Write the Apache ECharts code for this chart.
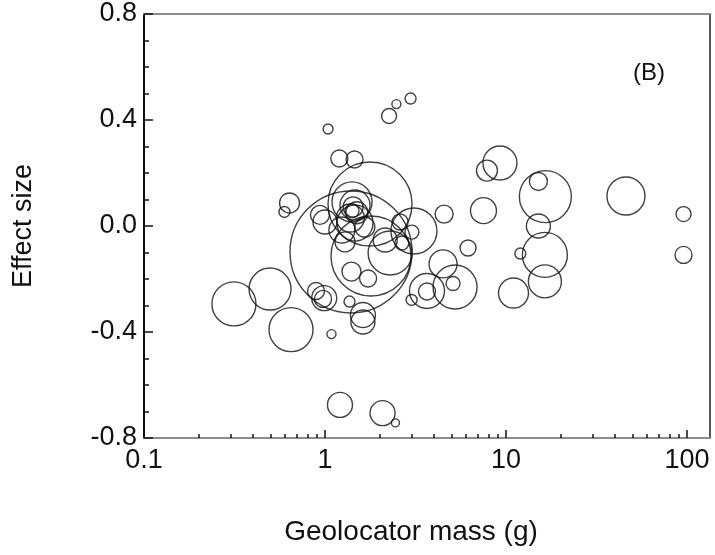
<!DOCTYPE html>
<html>
<head>
<meta charset="utf-8">
<title>Effect size vs geolocator mass</title>
<script src="https://cdn.jsdelivr.net/npm/echarts@6.0.0/dist/echarts.min.js"></script>
<style>
  html, body { margin: 0; padding: 0; background: #fff; }
  #chart { width: 715px; height: 555px; }
</style>
</head>
<body>
<div id="chart"></div>
<script>
// geolocator mass (g), one value per study
const massG = [
  1.04, 2.26, 2.48, 2.97, 1.20, 1.456, 1.773, 1.392, 1.795, 2.29,
  3.10, 4.55, 6.17, 4.49, 5.10, 5.23, 3.66, 3.66, 3.01, 1.40,
  1.73, 0.892, 0.975, 0.99, 1.366, 1.62, 1.62, 1.086, 0.314, 0.497,
  0.649, 0.637, 0.597, 0.938, 1.21, 2.08, 2.45, 9.26, 7.85, 16.5,
  15.1, 46.0, 95.7, 7.51, 15.1, 16.4, 16.4, 11.0, 95.7, 12.0,
  1.41, 1.465, 1.43, 1.41, 1.465, 1.24, 1.0, 1.66, 1.29, 2.60,
  2.66, 3.02, 2.15, 1.38, 1.50
]
// effect size
const effectSize = [
  0.366, 0.415, 0.46, 0.481, 0.255, 0.251, 0.083, -0.098, -0.113, -0.102,
  -0.019, 0.045, -0.083, -0.143, -0.217, -0.230, -0.247, -0.245, -0.279, -0.172,
  -0.198, -0.245, -0.275, -0.272, -0.285, -0.336, -0.362, -0.408, -0.294, -0.238,
  -0.391, 0.087, 0.053, 0.042, -0.675, -0.706, -0.743, 0.238, 0.209, 0.111,
  0.168, 0.113, 0.045, 0.058, 0.0, -0.109, -0.209, -0.253, -0.109, -0.104,
  0.091, 0.079, 0.072, 0.057, 0.011, -0.015, 0.015, -0.004, -0.06, 0.015,
  -0.064, -0.023, -0.053, 0.030, 0.050
]
// relative study weight (bubble radius)
const weight = [
  5, 7.5, 4.5, 5.5, 8.5, 8.5, 42, 61, 40, 22,
  23, 9, 8, 14, 7, 22, 8.5, 17.5, 5.5, 9.5,
  8.5, 8.5, 8.5, 12.5, 5.5, 12.5, 12, 4.5, 22, 21,
  22, 10, 5.5, 9.5, 12.5, 12.5, 4, 17, 10.5, 26,
  9, 19, 7.5, 13, 12, 22.5, 16.5, 15, 8.5, 5.5,
  20, 15, 10, 7, 18, 13, 12, 10, 10, 8,
  7, 7, 12, 14, 11
]

const xMajorTicks = [0.1, 1, 10, 100]
const xMinorTicks = [
  0.2, 0.3, 0.4, 0.5, 0.6, 0.7, 0.8, 0.9,
  2, 3, 4, 5, 6, 7, 8, 9,
  20, 30, 40, 50, 60, 70, 80, 90
]
const yTicks = [-0.8, -0.4, 0, 0.4, 0.8]

const points = massG.map((m, i) => [m, effectSize[i], weight[i]])

const font = 'Liberation Sans, Arial, Helvetica, sans-serif'
const ink = '#111'
const grey = '#8c8c8c'
const xMin = 0.1
const xMax = 134

const chart = echarts.init(document.getElementById('chart'), null, { renderer: 'canvas' })

chart.setOption({
  animation: false,
  backgroundColor: '#fff',
  textStyle: { fontFamily: font, color: ink },
  grid: {
    left: 144,
    right: 5,
    top: 14,
    bottom: 117,
    show: true,
    borderColor: '#222',
    borderWidth: 1.5,
    backgroundColor: 'transparent',
  },
  xAxis: [
    {
      type: 'log',
      logBase: 10,
      min: xMin,
      max: xMax,
      position: 'bottom',
      name: 'Geolocator mass (g)',
      nameLocation: 'middle',
      nameGap: 80,
      nameTextStyle: { fontSize: 28, color: ink, fontFamily: font, padding: [0, 32, 0, 0] },
      axisLine: { show: true, onZero: false, lineStyle: { color: grey, width: 2 } },
      axisTick: {
        show: true,
        inside: true,
        length: 8,
        customValues: xMajorTicks,
        lineStyle: { color: ink, width: 1.5 },
      },
      axisLabel: {
        show: true,
        customValues: xMajorTicks,
        fontSize: 27,
        margin: 9,
        color: ink,
        formatter: (v) => String(v),
      },
      splitLine: { show: false },
    },
    {
      type: 'log',
      logBase: 10,
      min: xMin,
      max: xMax,
      position: 'bottom',
      axisLine: { show: false, onZero: false },
      axisTick: {
        show: true,
        inside: true,
        length: 4,
        customValues: xMinorTicks,
        lineStyle: { color: ink, width: 1.5 },
      },
      axisLabel: { show: false },
      splitLine: { show: false },
    },
    {
      type: 'log',
      logBase: 10,
      min: xMin,
      max: xMax,
      position: 'top',
      axisLine: { show: true, onZero: false, lineStyle: { color: grey, width: 2 } },
      axisTick: { show: false },
      axisLabel: { show: false },
      splitLine: { show: false },
    },
  ],
  yAxis: {
    type: 'value',
    min: yTicks[0],
    max: yTicks[yTicks.length - 1],
    interval: 0.4,
    name: 'Effect size',
    nameLocation: 'middle',
    nameRotate: 90,
    nameGap: 107,
    nameTextStyle: { fontSize: 27, color: ink, fontFamily: font },
    axisLine: { show: true, onZero: false, lineStyle: { color: ink, width: 2 } },
    axisTick: { show: true, inside: true, length: 9, lineStyle: { color: ink, width: 1.5 } },
    minorTick: { show: true, splitNumber: 4, length: 5, lineStyle: { color: ink, width: 1.5 } },
    axisLabel: {
      fontSize: 27,
      margin: 7,
      color: ink,
      formatter: (v) => v.toFixed(1),
    },
    splitLine: { show: false },
    minorSplitLine: { show: false },
  },
  graphic: [
    {
      type: 'text',
      left: 633,
      top: 61,
      style: { text: '(B)', font: '24px ' + font, fill: ink },
    },
  ],
  series: [
    {
      type: 'scatter',
      xAxisIndex: 0,
      yAxisIndex: 0,
      data: points,
      symbol: 'circle',
      symbolSize: (d) => d[2] * 2,
      silent: true,
      itemStyle: {
        color: 'rgba(0,0,0,0)',
        borderColor: ink,
        borderWidth: 1.4,
      },
      emphasis: { disabled: true },
    },
  ],
})

window.addEventListener('resize', () => chart.resize())
</script>
</body>
</html>
